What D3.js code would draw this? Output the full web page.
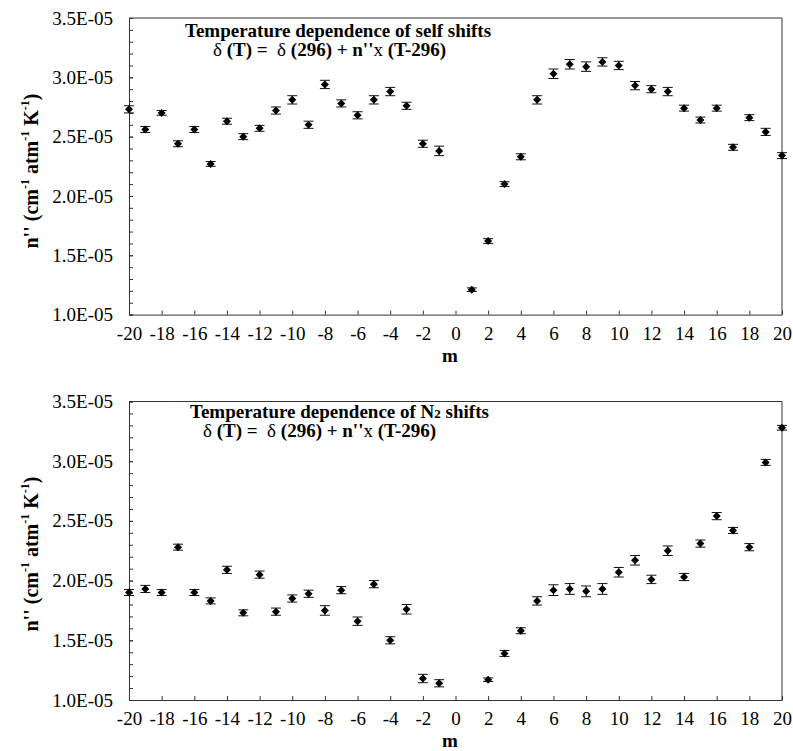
<!DOCTYPE html>
<html>
<head>
<meta charset="utf-8">
<script src="https://cdn.jsdelivr.net/npm/d3@7"></script>
<style>
  html, body { margin: 0; padding: 0; background: #fff; }
  svg { display: block; }
  svg text { font-family: "Liberation Serif", "Times New Roman", serif !important; }
</style>
</head>
<body>
<svg id="chart" width="793" height="751"></svg>
<script>
// ---------- DATA (values in units of 1E-05) ----------
const mSelf = [-20,-19,-18,-17,-16,-15,-14,-13,-12,-11,-10,-9,-8,-7,-6,-5,-4,-3,-2,-1,
               1,2,3,4,5,6,7,8,9,10,11,12,13,14,15,16,17,18,19,20];
const selfValues = [2.73,2.56,2.70,2.44,2.56,2.27,2.63,2.50,2.57,2.72,2.81,2.60,2.94,2.78,2.68,2.81,2.88,2.76,2.44,2.38,
                    1.21,1.62,2.10,2.33,2.81,3.03,3.11,3.09,3.13,3.10,2.93,2.90,2.88,2.74,2.64,2.74,2.41,2.66,2.54,2.34];
const selfErrors = [0.03,0.025,0.02,0.025,0.025,0.02,0.025,0.025,0.025,0.03,0.035,0.03,0.035,0.03,0.03,0.035,0.035,0.03,0.03,0.04,
                    0.015,0.02,0.02,0.025,0.035,0.04,0.04,0.04,0.035,0.035,0.035,0.03,0.035,0.025,0.025,0.025,0.025,0.025,0.03,0.025];

const mN2 = [-20,-19,-18,-17,-16,-15,-14,-13,-12,-11,-10,-9,-8,-7,-6,-5,-4,-3,-2,-1,
             2,3,4,5,6,7,8,9,10,11,12,13,14,15,16,17,18,19,20];
const n2Values = [1.90,1.93,1.90,2.28,1.90,1.83,2.09,1.73,2.05,1.74,1.85,1.89,1.75,1.92,1.66,1.97,1.50,1.76,1.18,1.14,
                  1.17,1.39,1.58,1.83,1.92,1.93,1.91,1.93,2.07,2.17,2.01,2.25,2.03,2.31,2.54,2.42,2.28,2.99,3.28];
const n2Errors = [0.025,0.03,0.025,0.025,0.025,0.025,0.03,0.025,0.03,0.03,0.03,0.03,0.04,0.03,0.035,0.03,0.03,0.04,0.035,0.03,
                  0.015,0.025,0.025,0.035,0.045,0.045,0.045,0.045,0.04,0.04,0.035,0.04,0.03,0.03,0.03,0.025,0.03,0.025,0.02];

const xTickValues = [-20,-18,-16,-14,-12,-10,-8,-6,-4,-2,0,2,4,6,8,10,12,14,16,18,20];
const yTickValues = [1.0,1.5,2.0,2.5,3.0,3.5];
const yTickLabels = ["1.0E-05","1.5E-05","2.0E-05","2.5E-05","3.0E-05","3.5E-05"];

const svg = d3.select("#chart");
svg.append("rect").attr("width",793).attr("height",751).attr("fill","#fff");

const axisColor = "#333";
const fontSize = 19;

function drawPanel(cfg) {
  const x = d3.scaleLinear().domain([-20,20]).range([129,782]);
  const y = d3.scaleLinear().domain([1.0,3.5]).range([cfg.bottom, cfg.top]);
  const g = svg.append("g");

  // frame (top & right)
  g.append("path")
    .attr("d", `M${x(-20)},${y(3.5)}H${x(20)}V${y(1.0)}`)
    .attr("fill","none").attr("stroke",axisColor).attr("stroke-width",1);

  // minor y ticks
  const yMinor = g.append("g").attr("transform",`translate(${x(-20)},0)`)
    .call(d3.axisLeft(y).tickValues(y.ticks(25)).tickSize(-4).tickFormat(""));
  yMinor.select(".domain").remove();
  yMinor.selectAll("line").attr("stroke",axisColor);

  // major y axis
  const yAx = g.append("g").attr("transform",`translate(${x(-20)},0)`)
    .call(d3.axisLeft(y).tickValues(yTickValues).tickSize(-4).tickSizeOuter(0).tickPadding(16)
      .tickFormat((d,i) => yTickLabels[i]));
  yAx.select(".domain").attr("stroke",axisColor);
  yAx.selectAll("line").attr("stroke",axisColor);
  yAx.selectAll("text").attr("font-size",fontSize).attr("fill","#000");

  // x axis
  const xAx = g.append("g").attr("transform",`translate(0,${y(1.0)})`)
    .call(d3.axisBottom(x).tickValues(xTickValues).tickSize(-4).tickSizeOuter(0).tickPadding(12)
      .tickFormat(d => d));
  xAx.select(".domain").attr("stroke",axisColor);
  xAx.selectAll("line").attr("stroke",axisColor);
  xAx.selectAll("text").attr("font-size",fontSize).attr("fill","#000");

  // error bars
  const data = cfg.m.map((m,i) => ({m, v: cfg.v[i], e: cfg.e[i]}));
  const eb = g.append("g").attr("stroke","#111").attr("stroke-width",1).attr("fill","none");
  data.forEach(d => {
    const cx = x(d.m), y1 = y(d.v + d.e), y2 = y(d.v - d.e);
    eb.append("path").attr("d",
      `M${cx},${y1}V${y2}M${cx-5},${y1}H${cx+5}M${cx-5},${y2}H${cx+5}`);
  });

  // diamond markers
  const s = 4;
  g.append("g").selectAll("path").data(data).join("path")
    .attr("d", d => `M${x(d.m)},${y(d.v)-s}L${x(d.m)+s},${y(d.v)}L${x(d.m)},${y(d.v)+s}L${x(d.m)-s},${y(d.v)}Z`)
    .attr("fill","#000");

  // x title
  g.append("text").attr("x",450).attr("y",y(1.0)+47).attr("text-anchor","middle")
    .attr("font-weight","bold").attr("font-size",fontSize).text("m");

  // y title
  const yt = g.append("text")
    .attr("transform",`translate(38,${cfg.yTitleCenter}) rotate(-90)`)
    .attr("text-anchor","middle").attr("font-weight","bold").attr("font-size",20);
  yt.append("tspan").text("n'' (cm");
  yt.append("tspan").attr("font-size",12).attr("dy",-9).text("-1");
  yt.append("tspan").attr("dy",9).text(" atm");
  yt.append("tspan").attr("font-size",12).attr("dy",-9).text("-1");
  yt.append("tspan").attr("dy",9).text(" K");
  yt.append("tspan").attr("font-size",12).attr("dy",-9).text("-1");
  yt.append("tspan").attr("dy",9).text(")");

  // title lines
  const t1 = g.append("text").attr("x",cfg.t1x).attr("y",cfg.t1y)
    .attr("font-weight","bold").attr("font-size",fontSize);
  cfg.title1(t1);

  const t2 = g.append("text").attr("x",cfg.t2x).attr("y",cfg.t2y)
    .attr("font-weight","bold").attr("font-size",fontSize).attr("xml:space","preserve");
  t2.append("tspan").attr("font-weight","normal").text("δ");
  t2.append("tspan").text(" (T) = ");
  t2.append("tspan").attr("font-weight","normal").text(" δ");
  t2.append("tspan").text(" (296) + n''");
  t2.append("tspan").attr("font-weight","normal").text("x");
  t2.append("tspan").text(" (T-296)");
}

drawPanel({
  m: mSelf, v: selfValues, e: selfErrors,
  top: 18, bottom: 314.6, yTitleCenter: 171,
  t1x: 185, t1y: 37, t2x: 213, t2y: 56,
  title1: t => t.text("Temperature dependence of self shifts")
});

drawPanel({
  m: mN2, v: n2Values, e: n2Errors,
  top: 401.5, bottom: 700, yTitleCenter: 554,
  t1x: 190, t1y: 418, t2x: 203, t2y: 437,
  title1: t => {
    t.append("tspan").text("Temperature dependence of  N");
    t.append("tspan").attr("font-size",13).text("2");
    t.append("tspan").text(" shifts");
  }
});
</script>
</body>
</html>
